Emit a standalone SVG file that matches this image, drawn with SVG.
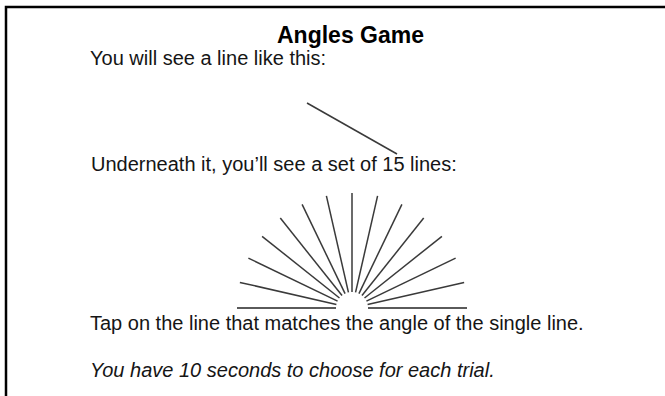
<svg xmlns="http://www.w3.org/2000/svg" width="665" height="396" viewBox="0 0 665 396">
<style>
.t{font-family:"Liberation Sans",Arial,sans-serif;font-size:20px;fill:#151515}
.title{font-family:"Liberation Sans",Arial,sans-serif;font-size:23px;font-weight:bold;fill:#000}
.ray{stroke:#3a3a3a;stroke-width:1.5;stroke-linecap:butt}
.base{stroke:#5a5a5a;stroke-width:2}
</style>
<rect width="665" height="396" fill="#fff"/>
<path d="M6,396 V7 H665" fill="none" stroke="#000" stroke-width="2.5"/>
<g id="title"><text class="title" x="350.5" y="43" text-anchor="middle">Angles Game</text></g>
<g id="intro"><text class="t" x="90" y="65">You will see a line like this:</text></g>
<g id="sample"><line class="ray" x1="307" y1="103" x2="397" y2="154"/></g>
<g id="under"><text class="t" x="91" y="171">Underneath it, you’ll see a set of 15 lines:</text></g>
<g id="fan">
<line class="base" x1="237" y1="308" x2="336" y2="308"/>
<line class="base" x1="368" y1="308" x2="467" y2="308"/>
<g transform="translate(352,308)">
<line class="ray" x1="16" y1="0" x2="115" y2="0" transform="rotate(-12.857)"/>
<line class="ray" x1="16" y1="0" x2="115" y2="0" transform="rotate(-25.714)"/>
<line class="ray" x1="16" y1="0" x2="115" y2="0" transform="rotate(-38.571)"/>
<line class="ray" x1="16" y1="0" x2="115" y2="0" transform="rotate(-51.429)"/>
<line class="ray" x1="16" y1="0" x2="115" y2="0" transform="rotate(-64.286)"/>
<line class="ray" x1="16" y1="0" x2="115" y2="0" transform="rotate(-77.143)"/>
<line class="ray" x1="16" y1="0" x2="115" y2="0" transform="rotate(-90)"/>
<line class="ray" x1="16" y1="0" x2="115" y2="0" transform="rotate(-102.857)"/>
<line class="ray" x1="16" y1="0" x2="115" y2="0" transform="rotate(-115.714)"/>
<line class="ray" x1="16" y1="0" x2="115" y2="0" transform="rotate(-128.571)"/>
<line class="ray" x1="16" y1="0" x2="115" y2="0" transform="rotate(-141.429)"/>
<line class="ray" x1="16" y1="0" x2="115" y2="0" transform="rotate(-154.286)"/>
<line class="ray" x1="16" y1="0" x2="115" y2="0" transform="rotate(-167.143)"/>
</g>
</g>
<g id="tap"><text class="t" x="90" y="330">Tap on the line that matches the angle of the single line.</text></g>
<g id="time"><text class="t" x="90" y="377" font-style="italic">You have 10 seconds to choose for each trial.</text></g>
</svg>
